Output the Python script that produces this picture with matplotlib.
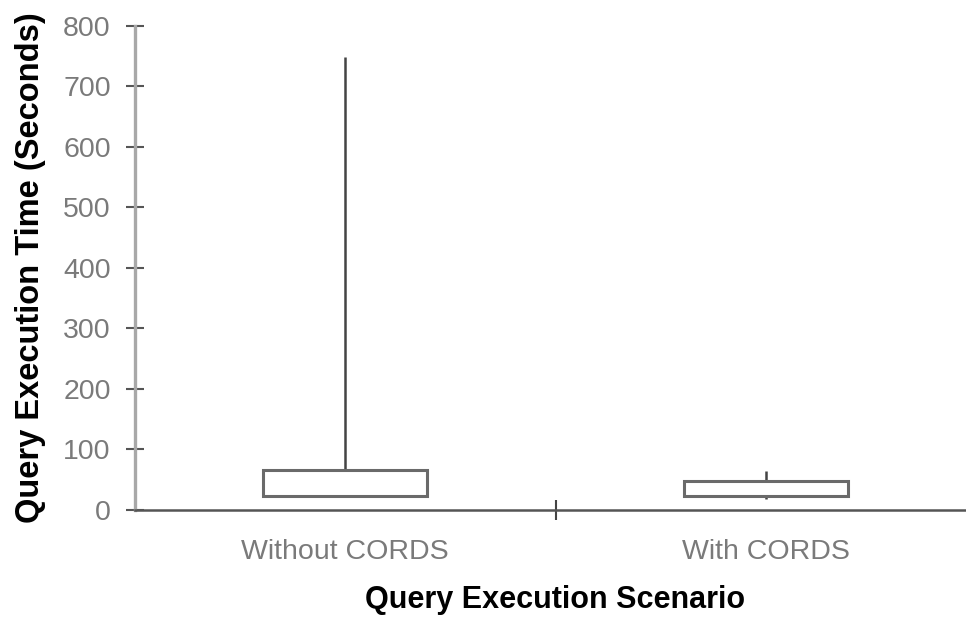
import matplotlib
matplotlib.use("Agg")
import matplotlib.pyplot as plt
import numpy as np

# values
categories = ['Without CORDS', 'With CORDS']
low = [23, 18]
box_low = [23, 23]
box_high = [66, 48]
high = [749, 64]
y_ticks = [0, 100, 200, 300, 400, 500, 600, 700, 800]

plt.rcParams['font.family'] = ['Liberation Sans', 'DejaVu Sans']

fig = plt.figure(figsize=(9.66, 6.23), dpi=100)
ax = fig.add_axes([0.1398, 0.1814, 0.8706, 0.7769])

x = np.arange(len(categories))
lo = np.array(box_low)
hi = np.array(box_high)
ax.bar(x, hi - lo, bottom=lo, width=0.39, color='white',
       edgecolor='#6a6a6a', linewidth=2.2, zorder=3)
# whiskers above and below the boxes
ax.vlines(x, hi, high, color='#444444', linewidth=1.8, zorder=2)
ax.vlines(x, low, lo, color='#444444', linewidth=1.8, zorder=2)

ax.set_xlim(-0.5, 1.5)
ax.set_ylim(0, 800)
ax.set_yticks(y_ticks)
ax.set_xticks(x)
ax.set_xticklabels(categories)
ax.set_xticks([0.5], minor=True)

for s in ['top', 'right']:
    ax.spines[s].set_visible(False)
ax.spines['left'].set_color('#a8a8a8')
ax.spines['left'].set_linewidth(2.4)
ax.spines['bottom'].set_color('#555555')
ax.spines['bottom'].set_linewidth(1.8)

ax.tick_params(axis='y', direction='inout', length=13, width=1.5,
               color='#555555', labelsize=20.5, labelcolor='#7a7a7a', pad=11)
ax.tick_params(axis='x', which='major', length=0, labelsize=20.5,
               labelcolor='#7a7a7a', pad=21)
ax.tick_params(axis='x', which='minor', direction='inout', length=14,
               width=1.5, color='#444444')

ax.set_ylabel('Query Execution Time (Seconds)', fontsize=23.5,
              fontweight='bold', labelpad=12)
ax.set_xlabel('Query Execution Scenario', fontsize=22,
              fontweight='bold', labelpad=14)

fig.savefig('out.png', dpi=100)
